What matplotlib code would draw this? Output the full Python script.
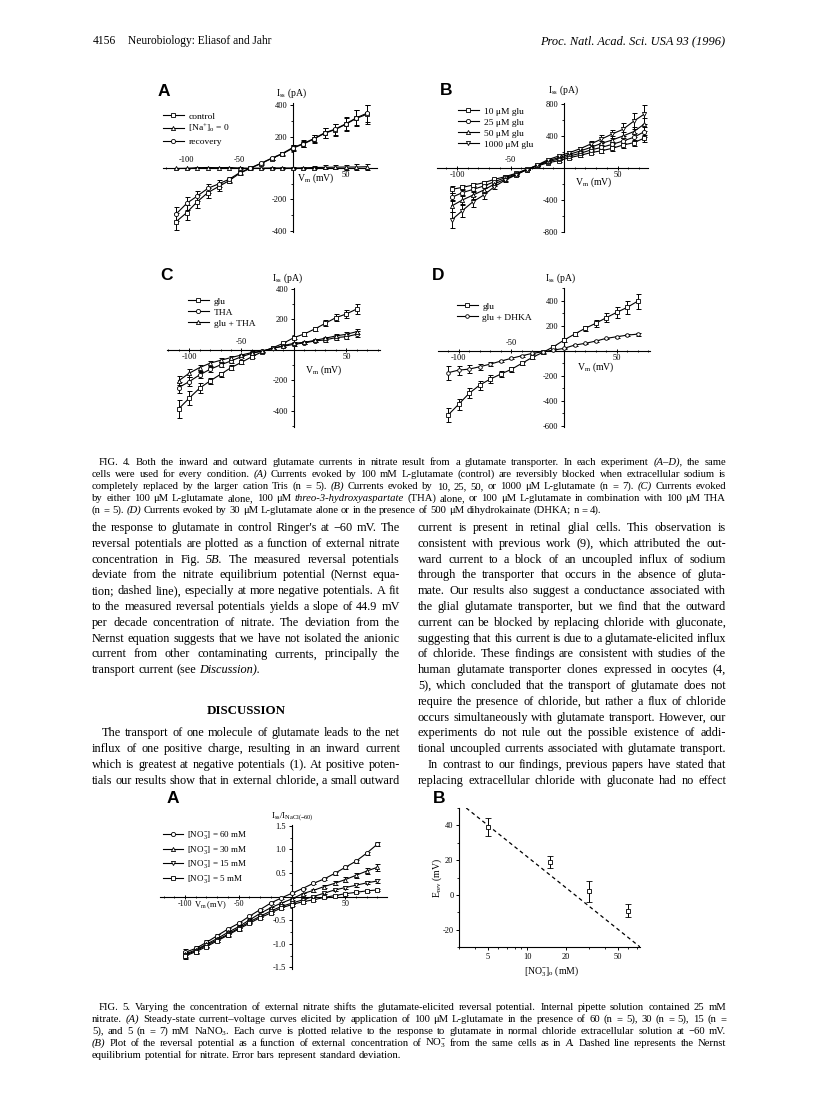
import matplotlib
matplotlib.use('Agg')
import matplotlib.pyplot as plt
from matplotlib.ticker import MultipleLocator

plt.rcParams['font.family'] = ['Liberation Serif', 'DejaVu Serif']
plt.rcParams['mathtext.fontset'] = 'custom'
plt.rcParams['mathtext.rm'] = 'Liberation Serif'
plt.rcParams['mathtext.it'] = 'Liberation Serif:italic'
plt.rcParams['axes.unicode_minus'] = False

# ---- Fig. 4A : control / Na-free / recovery ----
vA = [-110, -100, -90, -80, -70, -60, -50, -40, -30, -20, -10, 0, 10, 20, 30, 40, 50, 60, 70]
a_control = [-343, -285, -215, -157, -119, -81, -34, -2, 28, 60, 89, 126, 153, 185, 221, 245, 279, 317, 343]
a_control_err = [55, 50, 40, 32, 25, 18, 12, 8, 6, 8, 12, 18, 22, 28, 32, 38, 45, 52, 60]
a_na0 = [-3, -2, 2, 3, 2, 3, 0, -2, -1, 0, 0, 0, 1, 3, 4, 5, 6, 6, 8]
a_na0_err = [5, 5, 5, 5, 5, 5, 4, 4, 4, 4, 5, 6, 8, 10, 12, 14, 16, 18, 20]
a_recovery = [-294, -226, -179, -130, -102, -72, -30, 0, 30, 62, 92, 130, 156, 188, 224, 248, 282, 320, 350]
a_recovery_err = [45, 40, 35, 28, 22, 15, 10, 7, 6, 8, 10, 15, 20, 25, 30, 35, 40, 48, 55]

# ---- Fig. 4B : glutamate dose ----
vB = [-105, -95, -85, -75, -65, -55, -45, -35, -25, -15, -5, 5, 15, 25, 35, 45, 55, 65, 75]
b_10 = [-271, -246, -217, -188, -146, -112, -71, -21, 21, 62, 87, 125, 154, 188, 212, 242, 283, 312, 370]
b_10_err = [40, 35, 30, 25, 20, 15, 10, 8, 6, 8, 10, 12, 15, 18, 22, 28, 32, 40, 45]
b_25 = [-371, -312, -271, -229, -175, -125, -79, -25, 25, 75, 108, 146, 179, 221, 254, 292, 333, 379, 450]
b_25_err = [50, 45, 38, 30, 24, 18, 12, 8, 6, 8, 12, 15, 18, 22, 28, 35, 42, 50, 60]
b_50 = [-479, -404, -342, -279, -204, -142, -87, -25, 29, 87, 125, 167, 208, 254, 304, 346, 396, 450, 545]
b_50_err = [70, 60, 50, 38, 28, 20, 14, 9, 7, 10, 14, 18, 22, 28, 35, 45, 55, 65, 80]
b_1000 = [-654, -537, -425, -342, -237, -154, -92, -25, 33, 100, 146, 188, 237, 296, 358, 421, 479, 580, 670]
b_1000_err = [100, 80, 65, 50, 35, 25, 16, 10, 8, 12, 18, 22, 28, 36, 45, 55, 80, 100, 120]

# ---- Fig. 4C : glu / THA ----
vC = [-110, -100, -90, -80, -70, -60, -50, -40, -30, -20, -10, 0, 10, 20, 30, 40, 50, 60]
c_glu = [-387, -317, -251, -203, -160, -116, -81, -44, -11, 15, 44, 81, 105, 138, 175, 212, 236, 269]
c_glu_err = [60, 45, 32, 22, 18, 15, 12, 10, 8, 8, 8, 10, 12, 14, 18, 22, 28, 35]
c_tha = [-247, -208, -164, -127, -98, -72, -44, -22, -7, 11, 24, 37, 46, 59, 66, 81, 87, 103]
c_tha_err = [35, 28, 22, 18, 14, 12, 10, 8, 6, 6, 6, 8, 8, 10, 12, 14, 16, 20]
c_both = [-203, -153, -116, -87, -68, -50, -33, -17, -7, 11, 28, 44, 50, 63, 77, 92, 103, 120]
c_both_err = [30, 25, 20, 16, 13, 10, 8, 7, 6, 6, 6, 7, 8, 9, 10, 12, 14, 18]

# ---- Fig. 4D : glu / DHKA ----
vD = [-110, -100, -90, -80, -70, -60, -50, -40, -30, -20, -10, 0, 10, 20, 30, 40, 50, 60, 70]
d_glu = [-515, -429, -341, -275, -227, -187, -149, -101, -53, -13, 32, 85, 133, 179, 219, 264, 307, 347, 397]
d_glu_err = [55, 45, 40, 35, 30, 25, 20, 12, 10, 10, 12, 15, 18, 22, 28, 35, 42, 50, 60]
d_dhka = [-176, -155, -147, -128, -107, -83, -61, -40, -21, -8, 5, 19, 45, 59, 77, 99, 112, 125, 133]
d_dhka_err = [55, 35, 30, 25, 15, 10, 8, 7, 6, 6, 5, 5, 6, 6, 6, 7, 8, 10, 12]

# ---- Fig. 5A : normalised I-V at four nitrate levels ----
v5 = [-100, -90, -80, -70, -60, -50, -40, -30, -20, -10, 0, 10, 20, 30, 40, 50, 60, 70, 80]
n60 = [-1.18, -1.10, -0.97, -0.83, -0.69, -0.57, -0.42, -0.28, -0.14, -0.03, 0.07, 0.17, 0.28, 0.37, 0.49, 0.62, 0.75, 0.92, 1.11]
n60_err = [0.06, 0.05, 0.04, 0.04, 0.03, 0.03, 0.03, 0.02, 0.02, 0.02, 0.02, 0.02, 0.02, 0.02, 0.03, 0.03, 0.03, 0.03, 0.04]
n30 = [-1.22, -1.13, -1.01, -0.89, -0.76, -0.64, -0.50, -0.36, -0.24, -0.14, -0.05, 0.06, 0.13, 0.21, 0.28, 0.36, 0.45, 0.54, 0.62]
n30_err = [0.07, 0.06, 0.05, 0.04, 0.04, 0.03, 0.03, 0.03, 0.02, 0.02, 0.02, 0.02, 0.03, 0.03, 0.04, 0.05, 0.05, 0.06, 0.07]
n15 = [-1.24, -1.15, -1.03, -0.92, -0.80, -0.67, -0.54, -0.42, -0.31, -0.21, -0.14, -0.07, 0.00, 0.07, 0.14, 0.19, 0.24, 0.29, 0.33]
n15_err = [0.07, 0.05, 0.04, 0.04, 0.03, 0.03, 0.03, 0.02, 0.02, 0.02, 0.02, 0.02, 0.02, 0.02, 0.02, 0.03, 0.03, 0.03, 0.04]
n5 = [-1.26, -1.17, -1.06, -0.94, -0.82, -0.69, -0.57, -0.45, -0.35, -0.24, -0.17, -0.11, -0.07, -0.02, 0.02, 0.06, 0.09, 0.12, 0.14]
n5_err = [0.06, 0.05, 0.04, 0.03, 0.03, 0.03, 0.02, 0.02, 0.02, 0.02, 0.02, 0.02, 0.02, 0.02, 0.02, 0.02, 0.02, 0.02, 0.02]

# ---- Fig. 5B : reversal potential vs nitrate ----
conc = [5, 15, 30, 60]
erev = [39, 19, 2, -9]
erev_err = [5, 3.5, 6, 4]
nernst_conc = [3.4, 74]
nernst_e = [50, -30]

W, H = 816, 1098
fig = plt.figure(figsize=(W / 100, H / 100), dpi=100)
renderer = fig.canvas.get_renderer()


def px_ax(x0, y0, x1, y1):
    return fig.add_axes([x0 / W, 1 - y1 / H, (x1 - x0) / W, (y1 - y0) / H])


def put(x, y, s, size=8, ha='left', va='baseline', **kw):
    return fig.text(x / W, 1 - y / H, s, fontsize=size, ha=ha, va=va, **kw)


def justify(line, x0, x1, y, size, last=False):
    # lay the words of one line out so they fill x0..x1 (block justified)
    while True:
        arts, ws = [], []
        for t in line.split():
            style = 'normal'
            if t.startswith('~'):
                t, style = t[1:], 'italic'
            a = put(0, y, t, size=size, style=style)
            ws.append(a.get_window_extent(renderer).width)
            arts.append(a)
        normal = size * 100 / 72 * 0.25
        if last or len(arts) == 1:
            gap = normal
        else:
            gap = (x1 - x0 - sum(ws)) / (len(arts) - 1)
        if gap >= normal * 0.75 or last:
            break
        for a in arts:
            a.remove()
        size *= 0.98
    x = x0
    for a, w in zip(arts, ws):
        a.set_x(x / W)
        x += w + gap


def cross_axes(ax, xlim, ylim, yticks, yminor, xminor=10):
    ax.set_xlim(xlim)
    ax.set_ylim(ylim)
    ax.patch.set_alpha(0)
    for s in ['top', 'right']:
        ax.spines[s].set_visible(False)
    for s in ['left', 'bottom']:
        ax.spines[s].set_position(('data', 0))
        ax.spines[s].set_linewidth(0.8)
    ax.set_yticks(yticks)
    ax.set_yticklabels([('%g' % v) for v in yticks], fontsize=6)
    ax.yaxis.set_minor_locator(MultipleLocator(yminor))
    ax.set_xticks([-100, -50, 50])
    ax.set_xticklabels([])
    ax.xaxis.set_minor_locator(MultipleLocator(xminor))
    ax.tick_params(axis='y', which='major', direction='out', length=2.5, width=0.7, pad=1.5)
    ax.tick_params(axis='y', which='minor', direction='out', length=1.5, width=0.6)
    ax.tick_params(axis='x', which='major', direction='inout', length=3, width=0.7)
    ax.tick_params(axis='x', which='minor', direction='inout', length=1.8, width=0.6)


def xlab(ax, pos, size=6):
    for v, where in pos:
        dy = 2.5 if where == 'up' else -2.5
        ax.annotate(str(v), (v, 0), xytext=(0, dy), textcoords='offset points',
                    ha='center', va='bottom' if where == 'up' else 'top', fontsize=size)


def series(ax, x, y, err, marker, label, ms=3.0):
    ax.errorbar(x, y, yerr=err, fmt='none', ecolor='k', elinewidth=0.7,
                capsize=1.8, capthick=0.7, zorder=2)
    ax.plot(x, y, color='k', lw=0.8, marker=marker, ms=ms, mfc='white',
            mec='k', mew=0.6, label=label, zorder=3)


def legend_at(ax, x, y, size=6.8, spacing=0.25):
    ax.legend(loc='upper left', bbox_to_anchor=(x / W, 1 - y / H),
              bbox_transform=fig.transFigure, frameon=False, fontsize=size,
              handlelength=2.2, handletextpad=0.5, labelspacing=spacing,
              borderpad=0, borderaxespad=0, numpoints=1)


def letter(x, y, s):
    put(x, y, s, size=12.5, family='Liberation Sans', weight='bold')


# header
put(93, 44, '4156', size=8.3)
put(128, 44, 'Neurobiology: Eliasof and Jahr', size=8.3)
put(725, 44, 'Proc. Natl. Acad. Sci. USA 93 (1996)', size=8.9, ha='right', style='italic')

# ---------- Fig 4A ----------
ax = px_ax(163, 103, 377, 232)
cross_axes(ax, (-122.4, 79.5), (-409, 415), [400, 200, -200, -400], 100)
series(ax, vA, a_control, a_control_err, 's', 'control')
series(ax, vA, a_na0, a_na0_err, '^', '[Na$^{+}$]$_{\\mathrm{o}}$ = 0')
series(ax, vA, a_recovery, a_recovery_err, 'o', 'recovery')
xlab(ax, [(-100, 'up'), (-50, 'up'), (50, 'down')])
legend_at(ax, 163, 112)
letter(158, 96, 'A')
put(292, 96, 'I$_{\\mathrm{ss}}$ (pA)', size=7, ha='center')
put(297, 181, 'V$_{\\mathrm{m}}$ (mV)', size=7)

# ---------- Fig 4B ----------
ax = px_ax(437, 103, 648, 232)
cross_axes(ax, (-118.7, 78.5), (-804, 809), [800, 400, -400, -800], 200)
series(ax, vB, b_10, b_10_err, 's', '10 \u03bcM glu')
series(ax, vB, b_25, b_25_err, 'o', '25 \u03bcM glu')
series(ax, vB, b_50, b_50_err, '^', '50 \u03bcM glu')
series(ax, vB, b_1000, b_1000_err, 'v', '1000 \u03bcM glu')
xlab(ax, [(-100, 'down'), (-50, 'up'), (50, 'down')])
legend_at(ax, 458, 107)
letter(440, 95, 'B')
put(564, 93, 'I$_{\\mathrm{ss}}$ (pA)', size=7, ha='center')
put(575, 185, 'V$_{\\mathrm{m}}$ (mV)', size=7)

# ---------- Fig 4C ----------
ax = px_ax(167, 288, 380, 427)
cross_axes(ax, (-121, 82), (-505, 406), [400, 200, -200, -400], 100)
series(ax, vC, c_glu, c_glu_err, 's', 'glu')
series(ax, vC, c_tha, c_tha_err, 'o', 'THA')
series(ax, vC, c_both, c_both_err, '^', 'glu + THA')
xlab(ax, [(-100, 'down'), (-50, 'up'), (50, 'down')])
legend_at(ax, 188, 297)
letter(160, 280, 'C')
put(288, 281, 'I$_{\\mathrm{ss}}$ (pA)', size=7, ha='center')
put(305, 373, 'V$_{\\mathrm{m}}$ (mV)', size=7)

# ---------- Fig 4D ----------
ax = px_ax(438, 288, 650, 427)
cross_axes(ax, (-119.5, 81.6), (-610, 502), [400, 200, -200, -400, -600], 100)
series(ax, vD, d_glu, d_glu_err, 's', 'glu')
series(ax, vD, d_dhka, d_dhka_err, 'o', 'glu + DHKA', ms=2.6)
xlab(ax, [(-100, 'down'), (-50, 'up'), (50, 'down')])
legend_at(ax, 457, 302)
letter(432, 280, 'D')
put(561, 281, 'I$_{\\mathrm{ss}}$ (pA)', size=7, ha='center')
put(577, 370, 'V$_{\\mathrm{m}}$ (mV)', size=7)

# ---------- Fig 4 caption ----------
cap4 = [
    ('FIG. 4.   Both the inward and outward glutamate currents in nitrate result from a glutamate transporter. In each experiment ~(A\u2013D), the same', False),
    ('cells were used for every condition. ~(A) Currents evoked by 100 mM L-glutamate (control) are reversibly blocked when extracellular sodium is', False),
    ('completely replaced by the larger cation Tris (n = 5). ~(B) Currents evoked by 10, 25, 50, or 1000 \u03bcM L-glutamate (n = 7). ~(C) Currents evoked', False),
    ('by either 100 \u03bcM L-glutamate alone, 100 \u03bcM ~threo-3-hydroxyaspartate (THA) alone, or 100 \u03bcM L-glutamate in combination with 100 \u03bcM THA', False),
    ('(n = 5). ~(D) Currents evoked by 30 \u03bcM L-glutamate alone or in the presence of 500 \u03bcM dihydrokainate (DHKA; n = 4).', True),
]
for i, (line, last) in enumerate(cap4):
    x0 = 99 if i == 0 else 92
    justify(line, x0, 726, 465 + 12.0 * i, 7.7, last)

# ---------- body text ----------
LEAD = 15.8
TOP = 531
left = [
    ("the response to glutamate in control Ringer's at \u221260 mV. The", False),
    ('reversal potentials are plotted as a function of external nitrate', False),
    ('concentration in Fig. ~5B. The measured reversal potentials', False),
    ('deviate from the nitrate equilibrium potential (Nernst equa-', False),
    ('tion; dashed line), especially at more negative potentials. A fit', False),
    ('to the measured reversal potentials yields a slope of 44.9 mV', False),
    ('per decade concentration of nitrate. The deviation from the', False),
    ('Nernst equation suggests that we have not isolated the anionic', False),
    ('current from other contaminating currents, principally the', False),
    ('transport current (see ~Discussion).', True),
]
for i, (line, last) in enumerate(left):
    justify(line, 92, 400, TOP + LEAD * i, 8.8, last)
put(246, TOP + LEAD * 11.6, 'DISCUSSION', size=9.4, weight='bold', ha='center')
left2 = [
    'The transport of one molecule of glutamate leads to the net',
    'influx of one positive charge, resulting in an inward current',
    'which is greatest at negative potentials (1). At positive poten-',
    'tials our results show that in external chloride, a small outward',
]
for i, line in enumerate(left2):
    justify(line, 102 if i == 0 else 92, 400, TOP + LEAD * (13 + i), 8.8)

right = [
    'current is present in retinal glial cells. This observation is',
    'consistent with previous work (9), which attributed the out-',
    'ward current to a block of an uncoupled influx of sodium',
    'through the transporter that occurs in the absence of gluta-',
    'mate. Our results also suggest a conductance associated with',
    'the glial glutamate transporter, but we find that the outward',
    'current can be blocked by replacing chloride with gluconate,',
    'suggesting that this current is due to a glutamate-elicited influx',
    'of chloride. These findings are consistent with studies of the',
    'human glutamate transporter clones expressed in oocytes (4,',
    '5), which concluded that the transport of glutamate does not',
    'require the presence of chloride, but rather a flux of chloride',
    'occurs simultaneously with glutamate transport. However, our',
    'experiments do not rule out the possible existence of addi-',
    'tional uncoupled currents associated with glutamate transport.',
    'In contrast to our findings, previous papers have stated that',
    'replacing extracellular chloride with gluconate had no effect',
]
for i, line in enumerate(right):
    justify(line, 428 if i == 15 else 418, 726, TOP + LEAD * i, 8.8)

# ---------- Fig 5A ----------
ax = px_ax(160, 825, 387, 969)
cross_axes(ax, (-123.5, 89), (-1.535, 1.516), [1.5, 1.0, 0.5, -0.5, -1.0, -1.5], 0.25)
ax.set_yticklabels(['1.5', '1.0', '0.5', '-0.5', '-1.0', '-1.5'], fontsize=6)
series(ax, v5, n60, n60_err, 'o', '[NO$_3^{-}$] = 60 mM')
series(ax, v5, n30, n30_err, '^', '[NO$_3^{-}$] = 30 mM')
series(ax, v5, n15, n15_err, 'v', '[NO$_3^{-}$] = 15 mM')
series(ax, v5, n5, n5_err, 's', '[NO$_3^{-}$] = 5 mM')
xlab(ax, [(-100, 'down'), (-50, 'down'), (50, 'down')], size=5.8)
legend_at(ax, 163, 829, size=6.5, spacing=0.3)
letter(167, 803, 'A')
put(292, 818, 'I$_{\\mathrm{ss}}$/I$_{\\mathrm{NaCl(-60)}}$', size=6.5, ha='center')
put(194, 907, 'V$_{\\mathrm{m}}$ (mV)', size=6)

# ---------- Fig 5B ----------
ax = px_ax(459, 808, 640, 947)
ax.set_xscale('log')
ax.set_xlim(2.99, 73.9)
ax.set_ylim(-30, 50)
ax.patch.set_alpha(0)
for s in ['top', 'right']:
    ax.spines[s].set_visible(False)
for s in ['left', 'bottom']:
    ax.spines[s].set_linewidth(0.8)
ax.plot(nernst_conc, nernst_e, color='k', lw=0.9, ls=(0, (3, 2.5)))
ax.errorbar(conc, erev, yerr=erev_err, fmt='s', ms=2.8, mfc='white', mec='k',
            mew=0.6, ecolor='k', elinewidth=0.7, capsize=2.2, capthick=0.7)
ax.set_xticks([5, 10, 20, 50])
ax.set_xticklabels(['5', '10', '20', '50'], fontsize=6)
ax.set_yticks([40, 20, 0, -20])
ax.set_yticklabels(['40', '20', '0', '-20'], fontsize=6)
ax.yaxis.set_minor_locator(MultipleLocator(10))
ax.tick_params(which='major', direction='out', length=2.5, width=0.7, pad=1.5)
ax.tick_params(which='minor', direction='out', length=1.5, width=0.6)
letter(433, 803, 'B')
put(437, 878, 'E$_{\\mathrm{rev}}$ (mV)', size=7, ha='center', va='center', rotation=90)
put(552, 973, '[NO$_3^{-}$]$_{\\mathrm{o}}$ (mM)', size=7, ha='center')

# ---------- Fig 5 caption ----------
cap5 = [
    ('FIG. 5.   Varying the concentration of external nitrate shifts the glutamate-elicited reversal potential. Internal pipette solution contained 25 mM', False),
    ('nitrate. ~(A) Steady-state current\u2013voltage curves elicited by application of 100 \u03bcM L-glutamate in the presence of 60 (n = 5), 30 (n = 5), 15 (n =', False),
    ('5), and 5 (n = 7) mM NaNO$_3$. Each curve is plotted relative to the response to glutamate in normal chloride extracellular solution at \u221260 mV.', False),
    ('~(B) Plot of the reversal potential as a function of external concentration of NO$_3^{-}$ from the same cells as in ~A. Dashed line represents the Nernst', False),
    ('equilibrium potential for nitrate. Error bars represent standard deviation.', True),
]
for i, (line, last) in enumerate(cap5):
    x0 = 99 if i == 0 else 92
    justify(line, x0, 726, 1010 + 12.0 * i, 7.7, last)

fig.savefig('out.png', dpi=100)
